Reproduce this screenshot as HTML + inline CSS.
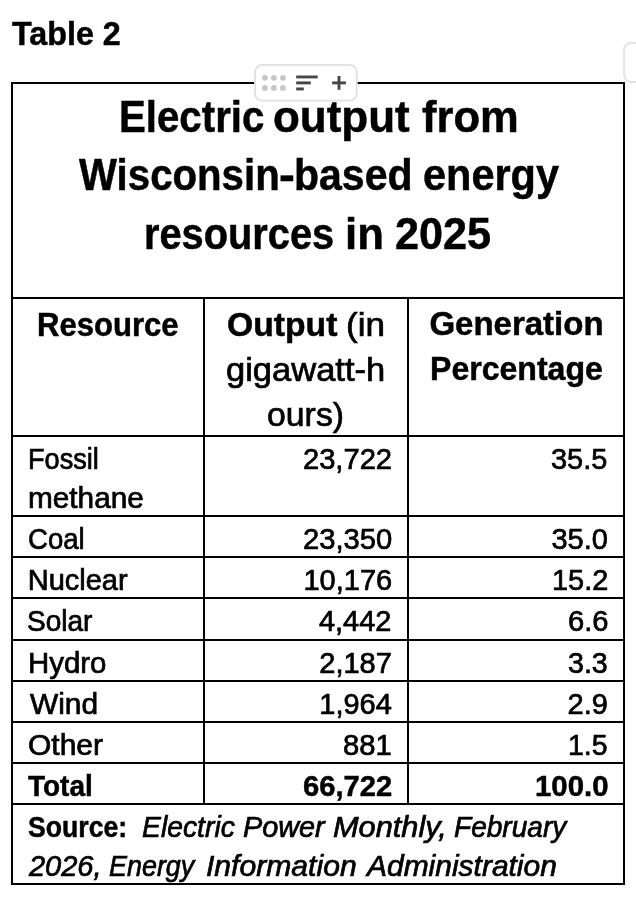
<!DOCTYPE html>
<html><head><meta charset="utf-8"><title>Table 2</title>
<style>
html,body{margin:0;padding:0;background:#fff;}
body{width:636px;height:906px;position:relative;overflow:hidden;font-family:"Liberation Sans",sans-serif;color:#000;}
.t{-webkit-text-stroke:0.7px #000;position:absolute;white-space:nowrap;line-height:1;transform-origin:0 0;}
.ln{position:absolute;background:#000;}
.ov{position:absolute;left:0;top:0;}
.layer{position:absolute;left:0;top:0;width:636px;height:906px;will-change:transform;}
</style></head>
<body>
<!-- side widget -->
<svg class="ov" width="636" height="906" viewBox="0 0 636 906"><rect x="624.1" y="42.95" width="40" height="39" rx="7" ry="7" fill="#fff" stroke="#e3e3e3" stroke-width="2"/></svg>
<!-- table borders -->
<div class="ln" style="left:11px;top:82px;width:614px;height:2px"></div>
<div class="ln" style="left:11px;top:883px;width:614px;height:2px"></div>
<div class="ln" style="left:11px;top:82px;width:2px;height:803px"></div>
<div class="ln" style="left:623px;top:82px;width:2px;height:803px"></div>
<!-- row lines -->
<div class="ln" style="left:11px;top:297px;width:614px;height:2px"></div>
<div class="ln" style="left:11px;top:435.4px;width:614px;height:2px"></div>
<div class="ln" style="left:11px;top:514.8px;width:614px;height:2px"></div>
<div class="ln" style="left:11px;top:556.3px;width:614px;height:2px"></div>
<div class="ln" style="left:11px;top:597.1px;width:614px;height:2px"></div>
<div class="ln" style="left:11px;top:638.6px;width:614px;height:2px"></div>
<div class="ln" style="left:11px;top:679.6px;width:614px;height:2px"></div>
<div class="ln" style="left:11px;top:720.7px;width:614px;height:2px"></div>
<div class="ln" style="left:11px;top:762.2px;width:614px;height:2px"></div>
<div class="ln" style="left:11px;top:802.6px;width:614px;height:2px"></div>
<!-- column lines -->
<div class="ln" style="left:203px;top:297px;width:2px;height:507px"></div>
<div class="ln" style="left:407px;top:297px;width:2px;height:507px"></div>
<!-- toolbar -->
<svg class="ov" width="636" height="906" viewBox="0 0 636 906">
  <rect x="255.0" y="65.05" width="101.75" height="35.6" rx="7" ry="7" fill="#fff" stroke="#e2e2e2" stroke-width="1.9"/>
  <g fill="#c6c6c6">
    <circle cx="264.9" cy="77.8" r="2.9"/><circle cx="273.9" cy="77.8" r="2.9"/><circle cx="282.9" cy="77.8" r="2.9"/>
    <circle cx="264.9" cy="87.9" r="2.9"/><circle cx="273.9" cy="87.9" r="2.9"/><circle cx="282.9" cy="87.9" r="2.9"/>
  </g>
  <g fill="#464646">
    <rect x="296.2" y="75.5" width="21.5" height="2.9"/>
    <rect x="296.2" y="81.45" width="14.6" height="2.9"/>
    <rect x="296.2" y="87.5" width="7.6" height="2.9"/>
    <rect x="332.1" y="81.45" width="13.8" height="2.9"/>
    <rect x="337.55" y="76.0" width="2.9" height="13.8"/>
  </g>
</svg>
<div class="layer">
<div class="t" style="left:12.10px;top:17px;font-size:33px;font-weight:700;-webkit-text-stroke-width:0.5px;transform:scaleX(0.9778);">Table 2</div>
<div class="t" style="left:119.11px;top:95px;font-size:44.5px;font-weight:700;-webkit-text-stroke-width:0.5px;transform:scaleX(0.9038);">Electric</div>
<div class="t" style="left:273.32px;top:95px;font-size:44.5px;font-weight:700;-webkit-text-stroke-width:0.5px;transform:scaleX(0.9883);">output</div>
<div class="t" style="left:421.61px;top:95px;font-size:44.5px;font-weight:700;-webkit-text-stroke-width:0.5px;transform:scaleX(0.9781);">from</div>
<div class="t" style="left:78.73px;top:153px;font-size:44.5px;font-weight:700;-webkit-text-stroke-width:0.5px;transform:scaleX(0.9036);">Wisconsin</div>
<div class="t" style="left:279.19px;top:153px;font-size:44.5px;font-weight:700;-webkit-text-stroke-width:0.5px;transform:scaleX(1.0723);">-</div>
<div class="t" style="left:294.17px;top:153px;font-size:44.5px;font-weight:700;-webkit-text-stroke-width:0.5px;transform:scaleX(0.9217);">based</div>
<div class="t" style="left:422.70px;top:153px;font-size:44.5px;font-weight:700;-webkit-text-stroke-width:0.5px;transform:scaleX(0.9322);">energy</div>
<div class="t" style="left:144.24px;top:212px;font-size:44.5px;font-weight:700;-webkit-text-stroke-width:0.5px;transform:scaleX(0.8940);">resources</div>
<div class="t" style="left:344.80px;top:212px;font-size:44.5px;font-weight:700;-webkit-text-stroke-width:0.5px;transform:scaleX(0.9810);">in</div>
<div class="t" style="left:395.19px;top:212px;font-size:44.5px;font-weight:700;-webkit-text-stroke-width:0.5px;transform:scaleX(0.9705);">2025</div>
<div class="t" style="left:36.82px;top:308px;font-size:33px;font-weight:700;-webkit-text-stroke-width:0.5px;transform:scaleX(0.9417);">Resource</div>
<div class="t" style="left:226.88px;top:308px;font-size:33px;font-weight:700;-webkit-text-stroke-width:0.5px;transform:scaleX(1.0206);">Output</div>
<div class="t" style="left:346.34px;top:308px;font-size:33px;transform:scaleX(1.0647);">(in</div>
<div class="t" style="left:226.25px;top:353px;font-size:33px;transform:scaleX(1.0455);">gigawatt-h</div>
<div class="t" style="left:267.48px;top:398px;font-size:33px;transform:scaleX(1.0248);">ours)</div>
<div class="t" style="left:429.40px;top:307px;font-size:33px;font-weight:700;-webkit-text-stroke-width:0.5px;">Generation</div>
<div class="t" style="left:429.56px;top:352px;font-size:33px;font-weight:700;-webkit-text-stroke-width:0.5px;transform:scaleX(0.9714);">Percentage</div>
<div class="t" style="left:28.03px;top:445px;font-size:29px;transform:scaleX(0.9356);">Fossil</div>
<div class="t" style="left:28.36px;top:484px;font-size:29px;transform:scaleX(1.0262);">methane</div>
<div class="t" style="left:28.05px;top:525px;font-size:29px;transform:scaleX(0.9509);">Coal</div>
<div class="t" style="left:27.70px;top:566px;font-size:29px;">Nuclear</div>
<div class="t" style="left:27.43px;top:607px;font-size:29px;transform:scaleX(0.9654);">Solar</div>
<div class="t" style="left:27.67px;top:649px;font-size:29px;transform:scaleX(1.0134);">Hydro</div>
<div class="t" style="left:29.96px;top:690px;font-size:29px;transform:scaleX(1.0301);">Wind</div>
<div class="t" style="left:28.17px;top:731px;font-size:29px;transform:scaleX(1.0336);">Other</div>
<div class="t" style="left:28.40px;top:772px;font-size:29px;font-weight:700;-webkit-text-stroke-width:0.5px;transform:scaleX(0.9640);">Total</div>
<div class="t" style="left:302.90px;top:445px;font-size:29px;transform:scaleX(1.0035);">23,722</div>
<div class="t" style="left:302.89px;top:525px;font-size:29px;transform:scaleX(1.0057);">23,350</div>
<div class="t" style="left:303.45px;top:566px;font-size:29px;">10,176</div>
<div class="t" style="left:319.45px;top:607px;font-size:29px;transform:scaleX(0.9965);">4,442</div>
<div class="t" style="left:319.30px;top:649px;font-size:29px;">2,187</div>
<div class="t" style="left:319.25px;top:690px;font-size:29px;">1,964</div>
<div class="t" style="left:343.19px;top:731px;font-size:29px;transform:scaleX(1.0054);">881</div>
<div class="t" style="left:302.65px;top:772px;font-size:29px;font-weight:700;-webkit-text-stroke-width:0.5px;transform:scaleX(1.0057);">66,722</div>
<div class="t" style="left:551.45px;top:445px;font-size:29px;transform:scaleX(0.9973);">35.5</div>
<div class="t" style="left:551.45px;top:525px;font-size:29px;">35.0</div>
<div class="t" style="left:551.76px;top:566px;font-size:29px;transform:scaleX(0.9963);">15.2</div>
<div class="t" style="left:567.59px;top:607px;font-size:29px;transform:scaleX(1.0052);">6.6</div>
<div class="t" style="left:567.86px;top:649px;font-size:29px;transform:scaleX(0.9858);">3.3</div>
<div class="t" style="left:567.60px;top:690px;font-size:29px;">2.9</div>
<div class="t" style="left:568.08px;top:731px;font-size:29px;transform:scaleX(0.9801);">1.5</div>
<div class="t" style="left:534.88px;top:772px;font-size:29px;font-weight:700;-webkit-text-stroke-width:0.5px;transform:scaleX(1.0135);">100.0</div>
<div class="t" style="left:28.34px;top:813px;font-size:29px;font-weight:700;-webkit-text-stroke-width:0.5px;transform:scaleX(0.9181);">Source:</div>
<div class="t" style="left:142.01px;top:813px;font-size:29px;font-style:italic;transform:scaleX(0.9767);">Electric</div>
<div class="t" style="left:242.90px;top:813px;font-size:29px;font-style:italic;transform:scaleX(0.9940);">Power</div>
<div class="t" style="left:332.57px;top:813px;font-size:29px;font-style:italic;transform:scaleX(1.0596);">Monthly,</div>
<div class="t" style="left:454.12px;top:813px;font-size:29px;font-style:italic;transform:scaleX(0.9677);">February</div>
<div class="t" style="left:28.90px;top:852px;font-size:29px;font-style:italic;">2026,</div>
<div class="t" style="left:109.14px;top:852px;font-size:29px;font-style:italic;transform:scaleX(0.9283);">Energy</div>
<div class="t" style="left:205.62px;top:852px;font-size:29px;font-style:italic;transform:scaleX(1.0387);">Information</div>
<div class="t" style="left:367.37px;top:852px;font-size:29px;font-style:italic;transform:scaleX(1.0333);">Administration</div>
</div>
</body></html>
